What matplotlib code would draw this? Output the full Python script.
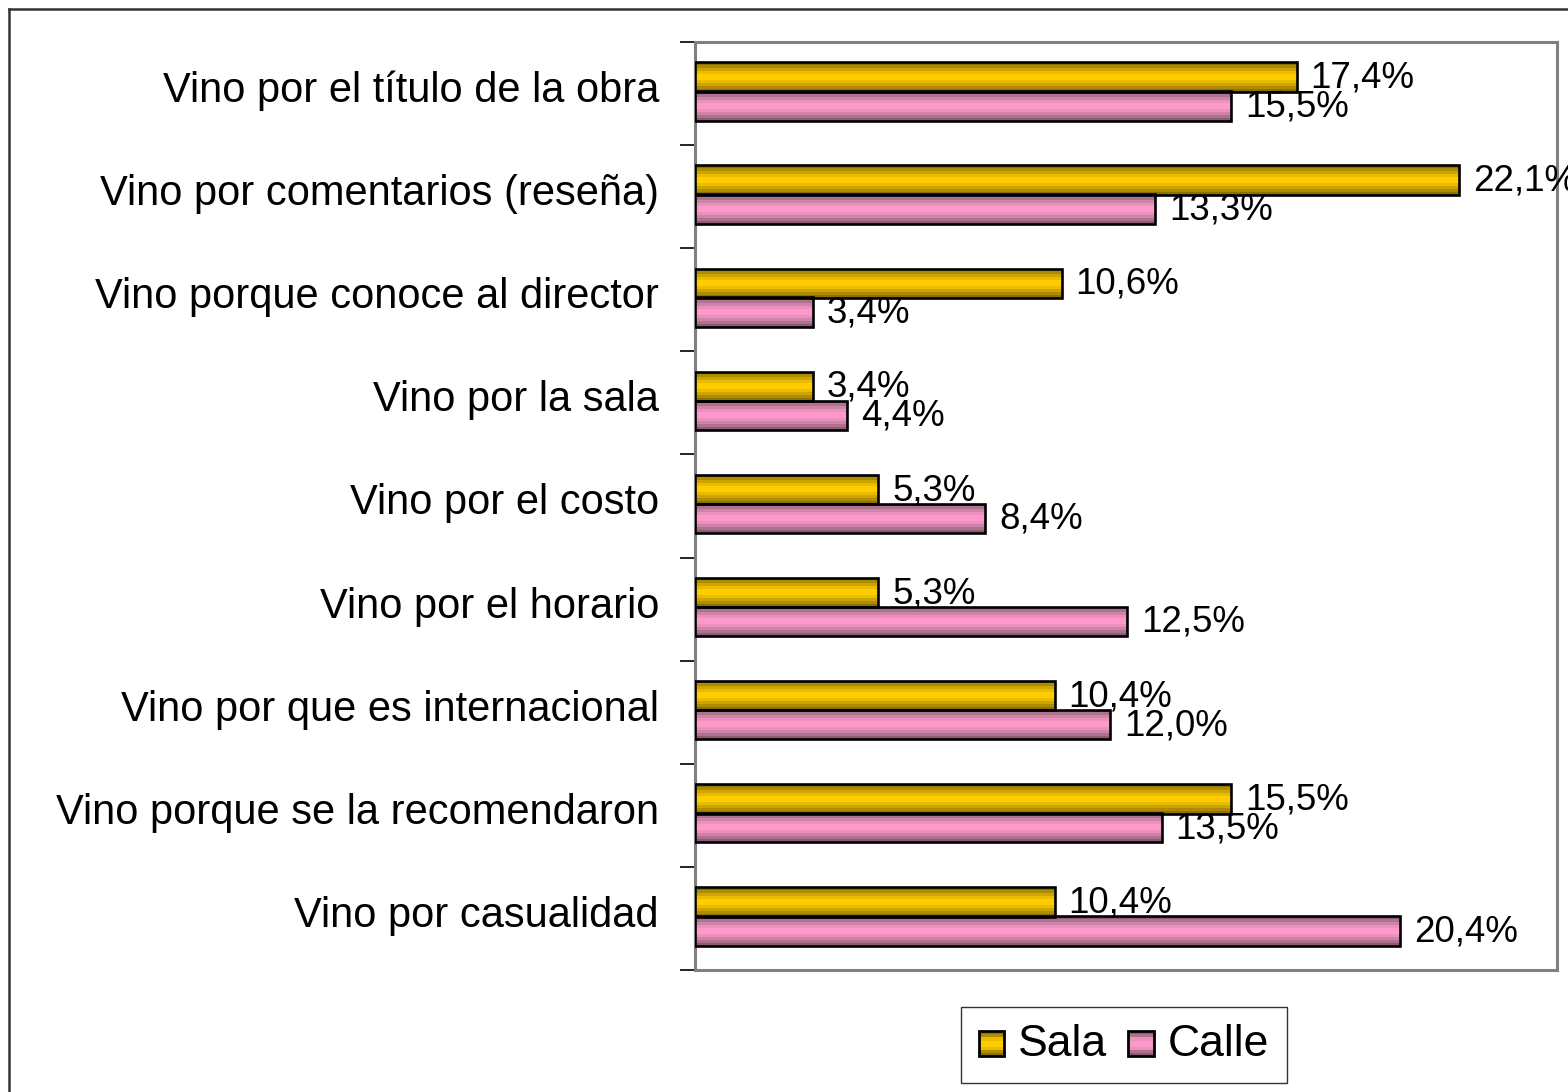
import matplotlib
matplotlib.use("Agg")
import matplotlib.pyplot as plt
import numpy as np
from matplotlib.colors import LinearSegmentedColormap
from matplotlib.patches import Rectangle
from matplotlib.legend_handler import HandlerBase
from matplotlib.lines import Line2D

categories = [
    "Vino por el título de la obra",
    "Vino por comentarios (reseña)",
    "Vino porque conoce al director",
    "Vino por la sala",
    "Vino por el costo",
    "Vino por el horario",
    "Vino por que es internacional",
    "Vino porque se la recomendaron",
    "Vino por casualidad",
]
sala = [17.4, 22.1, 10.6, 3.4, 5.3, 5.3, 10.4, 15.5, 10.4]
calle = [15.5, 13.3, 3.4, 4.4, 8.4, 12.5, 12.0, 13.5, 20.4]
series_names = ["Sala", "Calle"]

plt.rcParams['font.family'] = ['Liberation Sans', 'DejaVu Sans']

W, H = 1568, 1092
PX = 0.72  # points per pixel at dpi 100
fig = plt.figure(figsize=(W / 100, H / 100), dpi=100)
ax = fig.add_axes([695 / W, 1 - 970 / H, (1557 - 695) / W, (970 - 42) / H])

sala_cmap = LinearSegmentedColormap.from_list(
    "sala", ["#8c7000", "#b89400", "#e0b400", "#ffcc00", "#ffcc00", "#e0b400", "#b89400", "#8c7000"], N=10)
calle_cmap = LinearSegmentedColormap.from_list(
    "calle", ["#8c5c74", "#b87896", "#e08eb8", "#ff99cc", "#ff99cc", "#e08eb8", "#b87896", "#8c5c74"], N=10)

y = np.arange(len(categories))
h = 0.285
off = 0.14
shift = -0.02

grad = np.linspace(0, 1, 64).reshape(-1, 1)

def grad_bars(vals, ypos, cmap):
    bars = ax.barh(ypos, vals, height=h, facecolor="none", edgecolor="black",
                   linewidth=1.9, zorder=4)
    for b in bars:
        x0, y0 = b.get_x(), b.get_y()
        w, hh = b.get_width(), b.get_height()
        im = ax.imshow(grad, cmap=cmap, aspect="auto", interpolation="nearest",
                       extent=(x0, x0 + w, y0 + hh, y0), zorder=3)
        im.set_clip_path(b)
    return bars

bs = grad_bars(sala, y - off + shift, sala_cmap)
bc = grad_bars(calle, y + off + shift, calle_cmap)

for vals, ypos in ((sala, y - off + shift), (calle, y + off + shift)):
    for v, yy in zip(vals, ypos):
        ax.annotate(f"{v:.1f}%".replace(".", ","), (v, yy), xytext=(10, -10.5 * PX),
                    textcoords="offset points", va="baseline", ha="left",
                    fontsize=26.5, zorder=6, annotation_clip=False)

ax.set_xlim(0, 24.93)
ax.set_ylim(len(categories) - 0.5, -0.5)
ax.set_xticks([])
ax.set_yticks([])
for yi, cat in zip(y, categories):
    ax.annotate(cat, xy=(0, yi), xycoords=("axes fraction", "data"),
                xytext=(-36 * PX, -8.5 * PX), textcoords="offset points",
                ha="right", va="baseline", fontsize=30, annotation_clip=False)
ax.set_yticks(np.arange(-0.5, len(categories) + 0.5, 1), minor=True)
ax.tick_params(axis="y", which="minor", length=11, width=1.2, color="black", direction="out",
               labelleft=False)
for s in ax.spines.values():
    s.set_color("#808080")
    s.set_linewidth(2.2)

# legend with striped handles
class StripeHandler(HandlerBase):
    def __init__(self, cmap):
        super().__init__()
        self.cmap = cmap
    def create_artists(self, legend, orig_handle, xdescent, ydescent, width, height, fontsize, trans):
        sq = width
        x0 = -xdescent
        y0 = -ydescent + (height - sq) / 2 - 2
        arts = []
        n = 8
        for i in range(n):
            c = self.cmap((i + 0.5) / n)
            r = Rectangle((x0, y0 + i * sq / n), sq, sq / n, facecolor=c,
                          edgecolor="none", transform=trans)
            arts.append(r)
        arts.append(Rectangle((x0, y0), sq, sq, facecolor="none",
                              edgecolor="black", linewidth=2.0, transform=trans))
        return arts

h1 = Rectangle((0, 0), 1, 1)
h2 = Rectangle((0, 0), 1, 1)
leg = fig.legend([h1, h2], series_names, loc="center", bbox_to_anchor=(1124 / W, 1 - 1045 / H),
                 ncol=2, fontsize=32, frameon=True, fancybox=False, edgecolor="black",
                 handler_map={h1: StripeHandler(sala_cmap), h2: StripeHandler(calle_cmap)},
                 handlelength=0.57, handletextpad=0.32, columnspacing=0.47, borderpad=0.4,
                 borderaxespad=0)
leg.get_frame().set_linewidth(1.0)

# outer chart border (left and top visible)
fig.add_artist(Line2D([8.5 / W, 8.5 / W], [0, 1 - 8.5 / H], color="#333333", linewidth=1.8,
                      transform=fig.transFigure))
fig.add_artist(Line2D([8.5 / W, 1], [1 - 8.5 / H, 1 - 8.5 / H], color="#333333", linewidth=1.8,
                      transform=fig.transFigure))

fig.savefig("out.png", dpi=100)
